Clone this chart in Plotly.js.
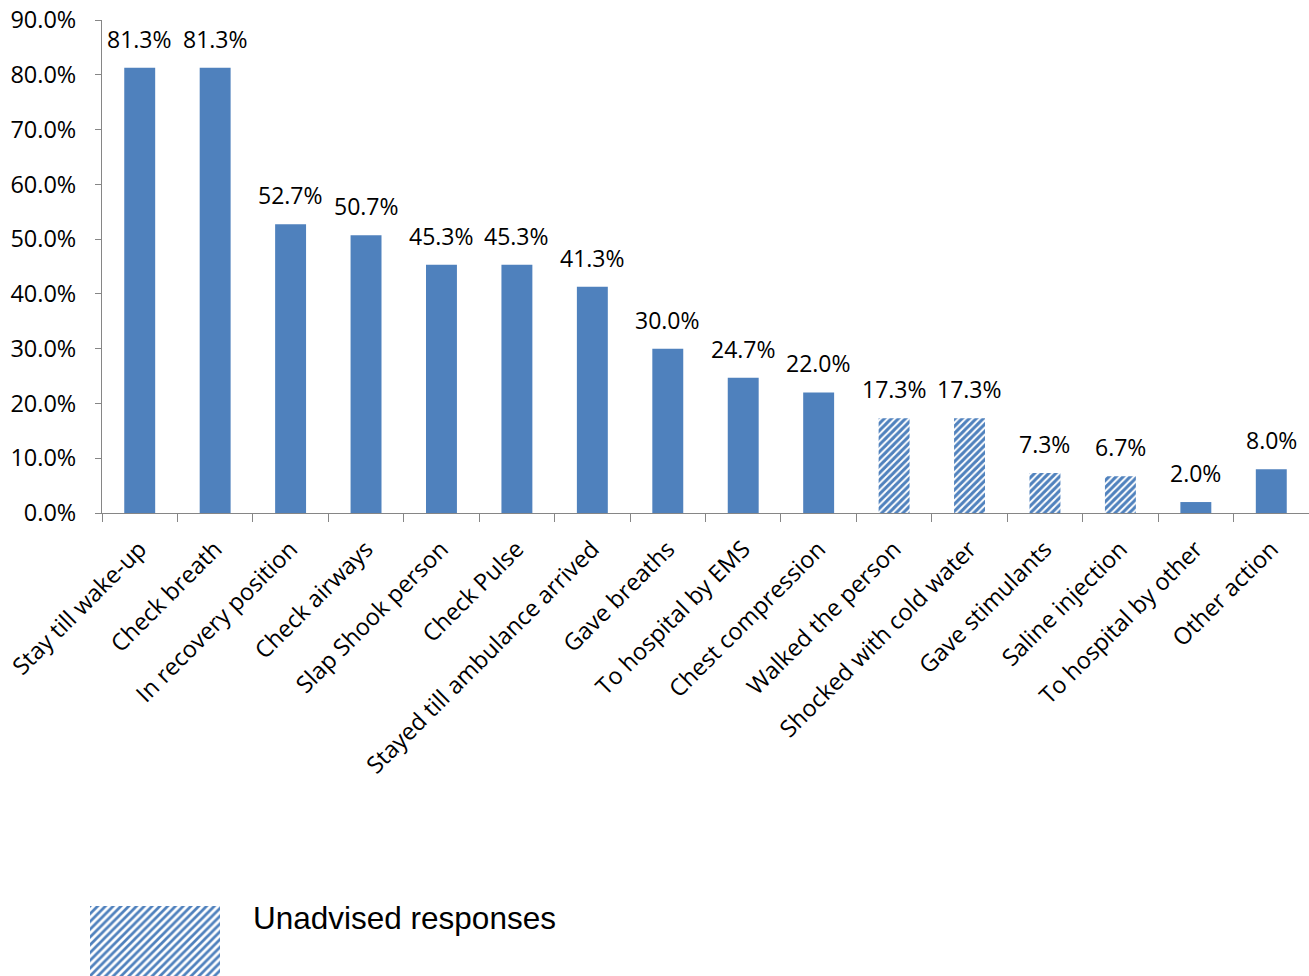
<!DOCTYPE html>
<html>
<head>
<meta charset="utf-8">
<script src="https://cdn.plot.ly/plotly-3.0.1.min.js"></script>
<style>html,body{margin:0;padding:0;background:#fff;}#chart{width:1309px;height:976px;}</style>
</head>
<body>
<div id="chart"></div>
<script>
const categories = ["Stay till wake-up","Check breath","In recovery position","Check airways","Slap Shook person","Check Pulse","Stayed till ambulance arrived","Gave breaths","To hospital by EMS","Chest compression","Walked the person","Shocked with cold water","Gave stimulants","Saline injection","To hospital by other","Other action"];
const values = [81.3,81.3,52.7,50.7,45.3,45.3,41.3,30.0,24.7,22.0,17.3,17.3,7.3,6.7,2.0,8.0];
const unadvised = [false,false,false,false,false,false,false,false,false,false,true,true,true,true,false,false];
const legendLabel = "Unadvised responses";

const BLUE = "#4F81BD";
const FONT = "'Open Sans', Lato, sans-serif";
const W = 1229;   // plot width (1309 - l 80)
const H = 956;    // plot height (976 - t 20)

const main = {
  type: "bar",
  x: categories,
  y: values,
  xaxis: "x", yaxis: "y",
  marker: {
    color: BLUE,
    line: {width: 0},
    pattern: {
      shape: unadvised.map(u => u ? "/" : ""),
      fgcolor: BLUE, bgcolor: "white", size: 5, solidity: 0.6
    }
  },
  hoverinfo: "none",
  showlegend: false
};

const legendBar = {
  type: "bar",
  x: [0], y: [1], width: [1],
  xaxis: "x2", yaxis: "y2",
  marker: {
    color: BLUE, line: {width: 0},
    pattern: {shape: "/", fgcolor: BLUE, bgcolor: "white", size: 5.5, solidity: 0.5}
  },
  hoverinfo: "none",
  showlegend: false
};

const labelAnns = categories.map((c, i) => ({
  xref: "x", yref: "y", x: c, y: values[i],
  xanchor: "center", yanchor: "bottom", yshift: 11,
  text: values[i].toFixed(1) + "%", showarrow: false,
  font: {family: FONT, size: 23, color: "#000"}
}));

const layout = {
  width: 1309, height: 976,
  margin: {l: 80, r: 0, t: 20, b: 0},
  paper_bgcolor: "white", plot_bgcolor: "white",
  font: {family: FONT, size: 23, color: "#000"},
  bargap: 0.59,
  xaxis: {
    domain: [22 / W, 1],
    anchor: "y",
    type: "category",
    tickangle: -45,
    ticks: "outside", ticklen: 8, tickcolor: "#868686", tickwidth: 1,
    tickson: "boundaries",
    ticklabelstandoff: 12,
    showline: true, linecolor: "#868686", linewidth: 1,
    showgrid: false, zeroline: false,
    tickfont: {family: FONT, size: 23.5, color: "#000"},
    automargin: false
  },
  yaxis: {
    domain: [(976 - 513) / H, 1],
    anchor: "x",
    range: [0, 90], dtick: 10, tick0: 0,
    tickformat: ".1f", ticksuffix: "%",
    ticks: "outside", ticklen: 6, tickcolor: "#868686", tickwidth: 1,
    ticklabelstandoff: 14,
    showline: true, linecolor: "#868686", linewidth: 1,
    showgrid: false, zeroline: false,
    tickfont: {family: FONT, size: 23.5, color: "#000"},
    automargin: false
  },
  xaxis2: {
    domain: [10 / W, 140 / W], anchor: "y2",
    range: [-0.5, 0.5], visible: false, fixedrange: true
  },
  yaxis2: {
    domain: [0, 70 / H], anchor: "x2",
    range: [0, 1], visible: false, fixedrange: true
  },
  annotations: labelAnns.concat([{
    xref: "paper", yref: "paper",
    x: (251 - 80) / W, y: (976 - 918) / H,
    xanchor: "left", yanchor: "middle",
    text: legendLabel, showarrow: false,
    font: {family: "'Liberation Sans', Arial, sans-serif", size: 31.5, color: "#000"}
  }])
};

Plotly.newPlot("chart", [main, legendBar], layout, {staticPlot: true, displayModeBar: false});
</script>
</body>
</html>
